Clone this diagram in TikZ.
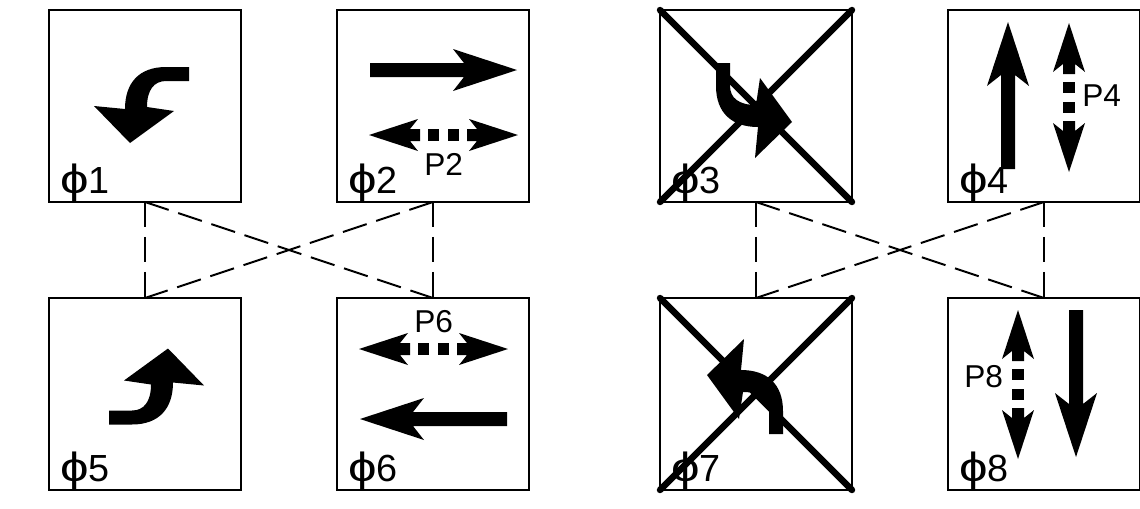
\documentclass[tikz,border=0pt]{standalone}
\usepackage{graphicx}
\usepackage{fontspec}
\setmainfont{Liberation Sans}
\newcommand{\phasesym}{\scalebox{1.35}[1.08]{ϕ}}
\tikzset{
  phasebox/.style={draw, line width=2*0.567pt, minimum size=3.84cm, inner sep=0, outer sep=0},
  phaselabel/.style={anchor=base west, inner sep=0, font=\fontsize{21.5}{21.5}\selectfont},
  pedlabel/.style={anchor=base west, inner sep=0, font=\fontsize{18}{18}\selectfont},
  crossline/.style={line width=6.5*0.567pt, line cap=round},
  ringline/.style={line width=2*0.567pt, dash pattern=on 14.2pt off 5.7pt},
  straightarrow/.pic={
    \fill (0,-7) -- (94,-7) -- (83,-21) -- (147,0) -- (83,21) -- (94,7) -- (0,7) -- cycle;
  },
  pedarrow/.pic={
    \fill (0,0) -- (49,-16) -- (41,-6) -- (51,-6) -- (51,6) -- (41,6) -- (49,16) -- cycle;
    \fill (149,0) -- (100,-16) -- (108,-6) -- (98,-6) -- (98,6) -- (108,6) -- (100,16) -- cycle;
    \fill (59,-6) rectangle (70,6);
    \fill (79,-6) rectangle (90,6);
  },
  turnarrow/.pic={
    \fill (0,-7) -- (0,7) -- (-23,7) .. controls (-35,7) and (-42,16) .. (-42,33)
      -- (-15,37) -- (-59,69) -- (-95,32) -- (-64,35)
      .. controls (-64,9) and (-50,-7) .. (-23,-7) -- cycle;
  }
}
\begin{document}
\begin{tikzpicture}[x=0.02cm, y=-0.02cm]
  \useasboundingbox (0,0) rectangle (1140,508);
  % phase boxes
  \foreach \n/\x/\y in {1/145/106, 2/433/106, 3/756/106, 4/1044/106,
                        5/145/394, 6/433/394, 7/756/394, 8/1044/394} {
    \node[phasebox] (box\n) at (\x,\y) {};
    \node[phaselabel] (phi\n) at ([shift={(11,-8)}]box\n.south west) {\phasesym\n};
  }
  % ring and barrier
  \foreach \a/\b in {1/5, 1/6, 2/5, 2/6, 3/7, 3/8, 4/7, 4/8}
    \draw[ringline] (box\a.south) -- (box\b.north);
  % prohibited phases
  \foreach \n in {3,7} {
    \draw[crossline] (box\n.north west) -- (box\n.south east);
    \draw[crossline] (box\n.south west) -- (box\n.north east);
  }
  % vehicle movements
  \pic at (189,74) {turnarrow};
  \pic[rotate=90] at (723,63) {turnarrow};
  \pic[rotate=180] at (109,417.5) {turnarrow};
  \pic[rotate=-90] at (776,434) {turnarrow};
  \pic at (370,70) {straightarrow};
  \pic[rotate=90] at (1008,169) {straightarrow};
  \pic[rotate=180] at (507,419) {straightarrow};
  \pic[rotate=-90] at (1076,310) {straightarrow};
  % pedestrian movements
  \pic at (369,135) {pedarrow};
  \pic[rotate=-90] at (1069,23) {pedarrow};
  \pic at (359,349) {pedarrow};
  \pic[rotate=-90] at (1018,310) {pedarrow};
  \node[pedlabel] (ped2) at (424,175) {P2};
  \node[pedlabel] (ped4) at (1082,106) {P4};
  \node[pedlabel] (ped6) at (414,332) {P6};
  \node[pedlabel] (ped8) at (964,387) {P8};
\end{tikzpicture}
\end{document}
